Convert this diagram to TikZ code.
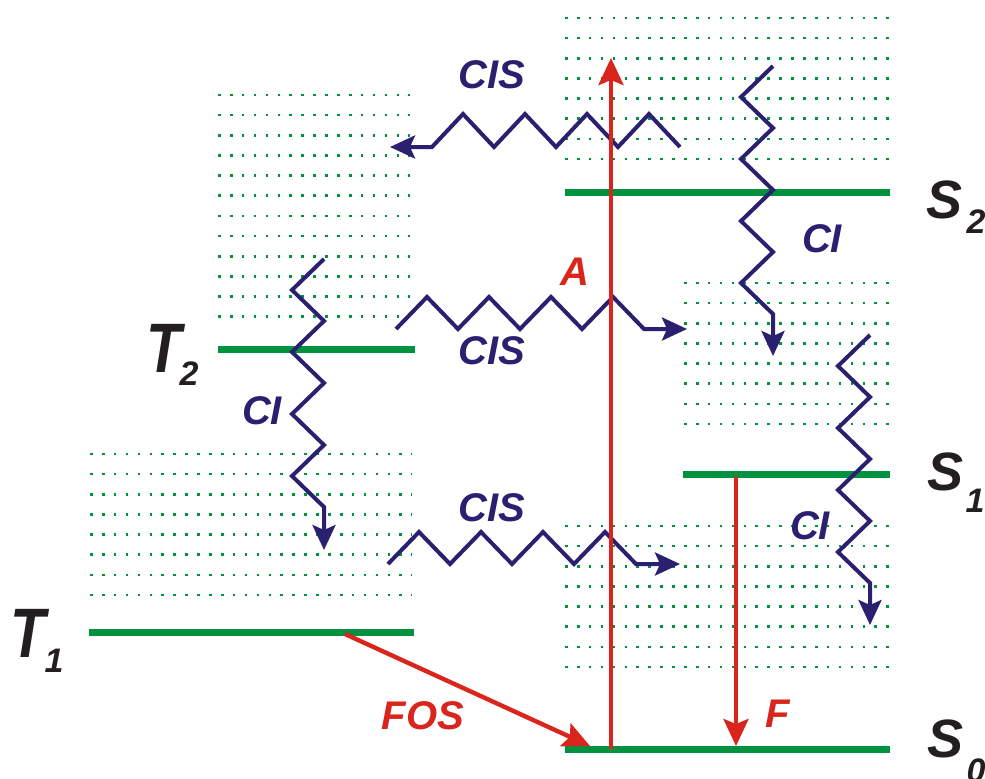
\documentclass[tikz,border=0pt]{standalone}
\usepackage{fontspec}
\setmainfont{Liberation Sans}
\usetikzlibrary{arrows.meta}
\definecolor{lvlgreen}{RGB}{0,146,63}
\definecolor{nrblue}{RGB}{42,32,112}
\definecolor{radred}{RGB}{218,37,29}
\definecolor{lblack}{RGB}{35,31,32}
\tikzset{level/.style={draw=lvlgreen,line width=3.5pt},
    dotrow/.style={draw=lvlgreen,line width=1.3pt,dash pattern=on 1.3pt off 4.65pt},
    wavy/.style={draw=nrblue,line width=2pt,-{Stealth[length=12.5pt,width=11.5pt,inset=2.5pt]}},
    radiative/.style={draw=radred,line width=2.2pt,-{Stealth[length=13.5pt,width=12.5pt,inset=2.5pt]}},
    proc/.style={nrblue,inner sep=0pt,font=\fontsize{20}{20}\selectfont\bfseries\itshape},
    radlabel/.style={radred,inner sep=0pt,font=\fontsize{20}{20}\selectfont\bfseries\itshape},
    statelab/.style={lblack,inner sep=0pt,anchor=base,font=\fontsize{27}{27}\selectfont\bfseries\itshape},
    tripletlab/.style={statelab,font=\fontsize{35}{35}\selectfont\bfseries\itshape},
    sublab/.style={lblack,inner sep=0pt,anchor=base,font=\fontsize{17}{17}\selectfont\bfseries\itshape}}

\begin{document}
\begin{tikzpicture}[x=0.5pt,y=-0.5pt]
    \useasboundingbox (0,0) rectangle (985,778);

    % Vibrational sublevels
    \foreach \xa/\xb/\ya/\nr in {565/889/18/8, 218/410/95/12, 684/889/283/8,
            90/412/454/8, 565/889/526/8}
        \foreach \r in {1,...,\nr}
            \draw[dotrow] (\xa,{\ya+(\r-1)*20.15}) -- (\xb,{\ya+(\r-1)*20.15});

    % Electronic levels
    \coordinate (S2l) at (565,192); \coordinate (S2r) at (890,192);
    \coordinate (T2l) at (218,349); \coordinate (T2r) at (415,349);
    \coordinate (S1l) at (683,474); \coordinate (S1r) at (890,474);
    \coordinate (T1l) at (89,632);  \coordinate (T1r) at (414,632);
    \coordinate (S0l) at (565,749); \coordinate (S0r) at (890,749);
    \foreach \lv in {S2,T2,S1,T1,S0}
        \draw[level] (\lv l) -- (\lv r);

    % Level labels
    \node[statelab]   (S2lab) at (944,218) {S};
    \node[sublab]     (S2sub) at (976,233) {2};
    \node[tripletlab] (T2lab) at (164,372) {\scalebox{0.82}[1]{T}};
    \node[sublab]     (T2sub) at (189,385) {2};
    \node[statelab]   (S1lab) at (945,490) {S};
    \node[sublab]     (S1sub) at (975,512) {1};
    \node[tripletlab] (T1lab) at (28,657) {\scalebox{0.82}[1]{T}};
    \node[sublab]     (T1sub) at (54,672) {1};
    \node[statelab]   (S0lab) at (945,757) {S};
    \node[sublab]     (S0sub) at (976,782) {0};

    % Nonradiative transitions
    \coordinate (cisA) at (680,147); \coordinate (cisAend) at (390,147);
    \coordinate (cisB) at (396,329); \coordinate (cisBend) at (687,329);
    \coordinate (cisC) at (388,564); \coordinate (cisCend) at (680,564);
    \coordinate (ciA) at (324,259);  \coordinate (ciAend) at (324,550);
    \coordinate (ciB) at (773,66);   \coordinate (ciBend) at (773,356);
    \coordinate (ciC) at (870,335);  \coordinate (ciCend) at (870,625);
    \draw[wavy] (cisA) \foreach \i in {1,...,4} {-- ++(-31,-33) -- ++(-31,33)} -- (cisAend);
    \draw[wavy] (cisB) \foreach \i in {1,...,4} {-- ++(31,-32) -- ++(31,32)} -- (cisBend);
    \draw[wavy] (cisC) \foreach \i in {1,...,4} {-- ++(31,-32) -- ++(31,32)} -- (cisCend);
    \foreach \c in {ciA,ciB,ciC}
        \draw[wavy] (\c) \foreach \i in {1,...,4} {-- ++(-32,31) -- ++(32,31)} -- (\c end);

    \node[proc] (cisTop) at (492,75)  {CIS};
    \node[proc] (cisMid) at (492,351) {CIS};
    \node[proc] (cisLow) at (492,508) {CIS};
    \node[proc] (ciT2)   at (262,411) {CI};
    \node[proc] (ciS2)   at (822,239) {CI};
    \node[proc] (ciS1)   at (810,526) {CI};

    % Radiative transitions
    \coordinate (absLow) at (611,749); \coordinate (absTop) at (611,58);
    \coordinate (fluHi) at (736,477);  \coordinate (fluLow) at (736,746);
    \coordinate (fosHi) at (345,634);  \coordinate (fosLow) at (590,746);
    \draw[radiative] (absLow) -- (absTop);
    \draw[radiative] (fluHi) -- (fluLow);
    \draw[radiative] (fosHi) -- (fosLow);

    \node[radlabel] (absLab) at (575,272) {A};
    \node[radlabel] (fosLab) at (423,716) {FOS};
    \node[radlabel] (fluLab) at (778,714) {F};
\end{tikzpicture}
\end{document}
